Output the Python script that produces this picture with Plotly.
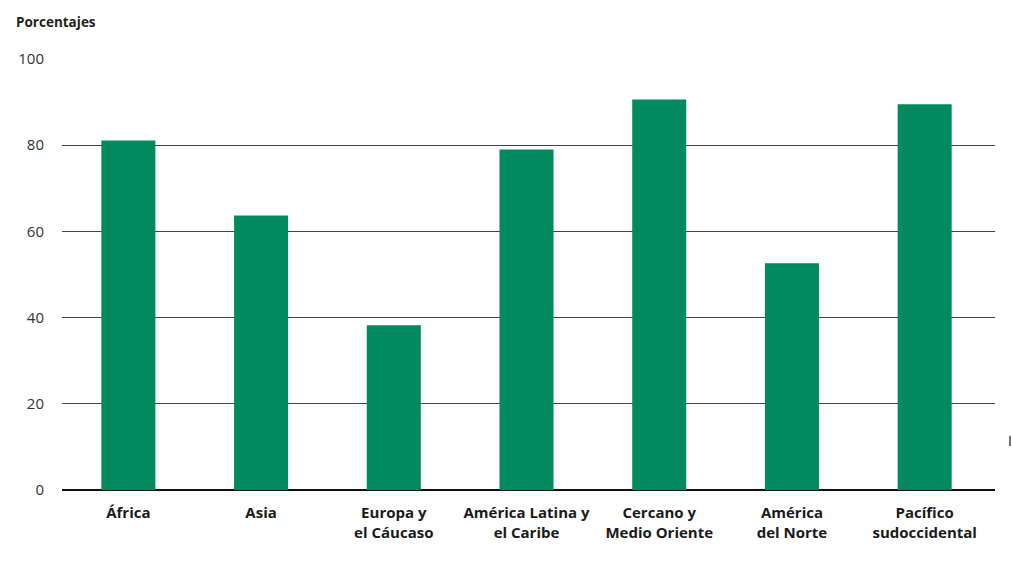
import plotly.graph_objects as go

# Regions and their percentages
regiones = [
    "África",
    "Asia",
    "Europa y<br>el Cáucaso",
    "América Latina y<br>el Caribe",
    "Cercano y<br>Medio Oriente",
    "América<br>del Norte",
    "Pacífico<br>sudoccidental",
]
porcentajes = [81.1, 63.7, 38.2, 79.0, 90.6, 52.6, 89.5]
y_ticks = [0, 20, 40, 60, 80, 100]

VERDE = "#008a5e"
FONT = "Open Sans, Liberation Sans, sans-serif"

PLOT_W = 1012 - 62 - 17
PLOT_H = 570 - 59 - 80

fig = go.Figure(
    go.Bar(
        x=regiones,
        y=porcentajes,
        marker=dict(color=VERDE, line=dict(width=0)),
        hoverinfo="x+y",
    )
)

fig.update_layout(
    width=1012,
    height=570,
    margin=dict(l=62, r=17, t=59, b=80),
    paper_bgcolor="white",
    plot_bgcolor="white",
    bargap=0.593,
    showlegend=False,
    font=dict(family=FONT, color="#231f20"),
    annotations=[
        dict(
            text="<b>Porcentajes</b>",
            xref="paper", yref="paper",
            x=(14 - 62) / PLOT_W, y=1 + 37 / PLOT_H,
            xanchor="left", yanchor="middle",
            showarrow=False,
            font=dict(size=13.5, color="#231f20", family=FONT),
        )
    ],
    shapes=[
        # small marker stroke at the right edge
        dict(
            type="line", xref="paper", yref="paper",
            x0=1 + 15 / PLOT_W, x1=1 + 15 / PLOT_W,
            y0=(490 - 446) / PLOT_H, y1=(490 - 436) / PLOT_H,
            line=dict(color="#444444", width=1.5),
        )
    ],
)

fig.update_yaxes(
    range=[0, 100],
    tickvals=y_ticks,
    showgrid=True,
    gridcolor="#444444",
    gridwidth=1,
    zeroline=True,
    zerolinecolor="#111111",
    zerolinewidth=2,
    showline=False,
    ticks="",
    ticklabelstandoff=17,
    tickfont=dict(size=15, color="#333333", family=FONT),
    layer="below traces",
)

fig.update_xaxes(
    range=[-0.5, 6.53],
    showgrid=False,
    showline=False,
    ticks="",
    tickangle=0,
    ticklabelstandoff=12,
    tickfont=dict(size=15, color="#1a1a1a", family=FONT),
    tickprefix="<b>",
    ticksuffix="</b>",
)

fig.write_html("out.html")
